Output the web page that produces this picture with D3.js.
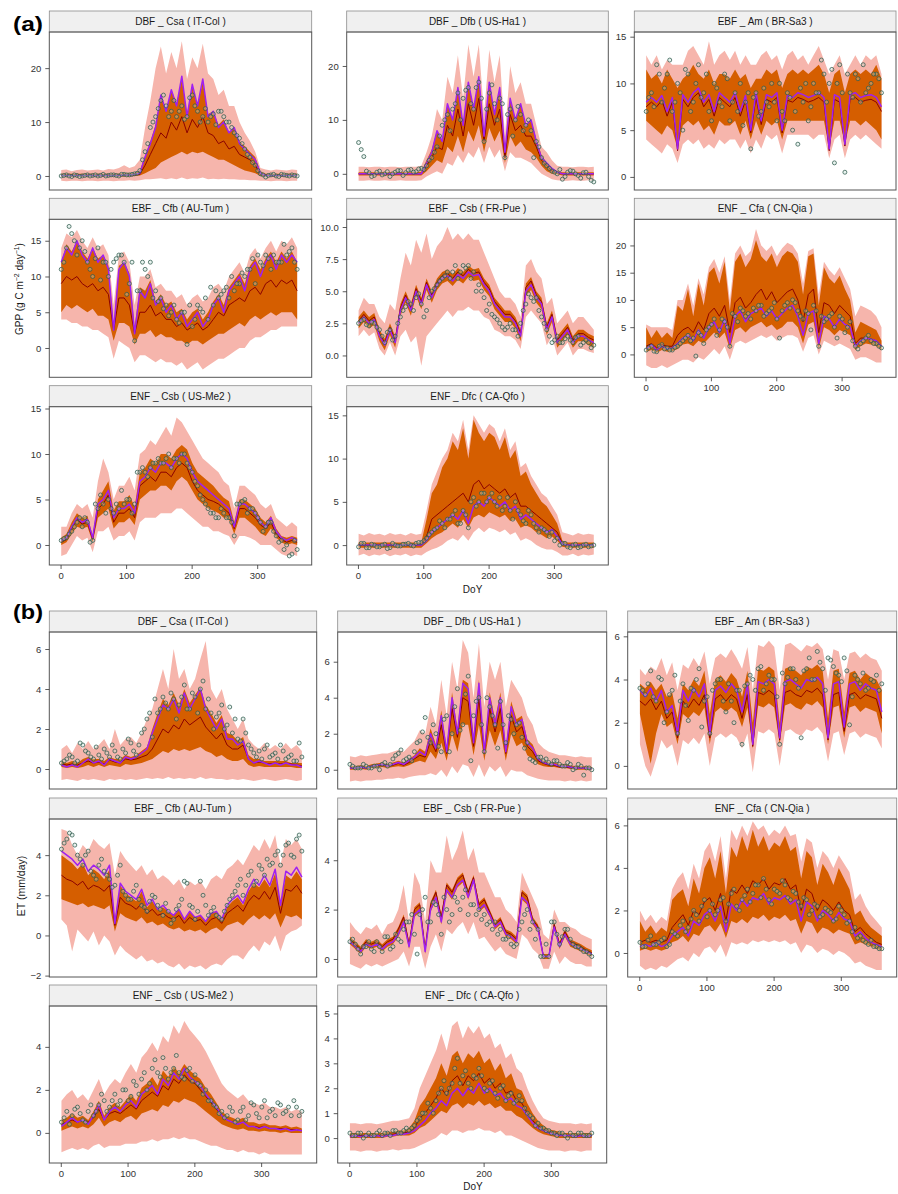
<!DOCTYPE html>
<html><head><meta charset="utf-8">
<script src="https://cdn.jsdelivr.net/npm/d3@7"></script>
<style>
body{margin:0;background:#fff;}
svg{display:block;font-family:"Liberation Sans",Arial,Helvetica,sans-serif;}
</style></head><body>
<svg id="chart" width="898" height="1194"></svg>
<script>
// ---------- DATA ----------
const days = [1,9,17,25,33,41,49,57,65,73,81,89,97,105,113,121,129,137,145,153,161,169,177,185,193,201,209,217,225,233,241,249,257,265,273,281,289,297,305,313,321,329,337,345,353,361];
const days2 = [5,13,21,29,37,45,53,61,69,77,85,93,101,109,117,125,133,141,149,157,165,173,181,189,197,205,213,221,229,237,245,253,261,269,277,285,293,301,309,317,325,333,341,349,357];
const xTickValues = [0,100,200,300];
const titles = ["DBF _ Csa ( IT-Col )","DBF _ Dfb ( US-Ha1 )","EBF _ Am ( BR-Sa3 )","EBF _ Cfb ( AU-Tum )","EBF _ Csb ( FR-Pue )","ENF _ Cfa ( CN-Qia )","ENF _ Csb ( US-Me2 )","ENF _ Dfc ( CA-Qfo )"];

const gppTicks = [[0,10,20],[0,10,20],[0,5,10,15],[0,5,10,15],[0,2.5,5,7.5,10],[0,5,10,15,20],[0,5,10,15],[0,5,10,15]];
const gppLimits = [[-2.6,26.7],[-3.0,26.3],[-1.4,15.5],[-4.1,18.0],[-1.7,10.6],[-4.2,24.8],[-2.2,15.2],[-2.3,16.0]];
const etTicks = [[0,2,4,6],[0,2,4,6],[0,2,4,6],[-2,0,2,4],[0,2,4],[0,2,4,6],[0,2,4],[0,1,2,3,4,5]];
const etLimits = [[-1.0,6.85],[-1.07,7.65],[-1.07,6.2],[-2.07,5.8],[-0.73,5.67],[-1.13,6.3],[-1.4,5.9],[-1.0,5.3]];

// ===== GPP IT-Col =====
const gpp_ITCol_obs=[0.0,0.2,-0.1,0.1,0.0,0.2,0.1,0.0,0.3,0.1,0.2,0.0,0.3,0.2,0.4,1.0,4.5,9.0,11.0,14.0,13.0,12.0,11.0,13.0,11.0,15.0,12.0,11.0,10.0,11.5,12.0,11.0,10.0,8.0,7.0,5.0,3.5,2.0,0.4,-0.2,0.2,0.0,0.3,0.1,0.2,0.0];
const gpp_ITCol_obs2=[0.1,0.0,0.2,-0.1,0.1,0.0,0.2,0.1,0.0,0.2,0.1,0.3,0.2,0.3,0.5,3.0,6.0,10.0,12.5,15.0,11.0,14.0,12.0,10.5,14.5,13.0,10.0,12.5,11.0,9.5,12.0,10.0,9.0,7.5,6.0,4.0,2.5,1.0,0.2,0.1,0.3,-0.1,0.2,0.0,0.1];
const gpp_ITCol_mod=[0.1,0.1,0.1,0.1,0.1,0.1,0.1,0.1,0.1,0.1,0.1,0.1,0.2,0.2,0.3,0.5,3.5,6.0,9.0,15.0,12.0,16.0,13.0,18.5,11.0,17.0,13.0,18.0,11.0,12.0,9.0,10.0,8.0,9.0,6.0,5.0,4.0,3.0,0.5,0.1,0.1,0.1,0.1,0.1,0.1,0.1];
const gpp_ITCol_med=[0.1,0.1,0.1,0.1,0.1,0.1,0.1,0.1,0.1,0.1,0.1,0.1,0.1,0.1,0.2,0.3,2.0,4.0,6.0,8.0,7.0,10.0,8.5,11.0,8.0,10.5,9.0,11.0,8.0,7.5,6.0,6.5,5.0,5.5,4.0,3.5,3.0,2.0,0.3,0.1,0.1,0.1,0.1,0.1,0.1,0.1];
const gpp_ITCol_inHi=[0.4,0.4,0.4,0.4,0.4,0.4,0.4,0.4,0.4,0.4,0.4,0.4,0.5,0.5,0.6,1.0,3.8,6.5,9.5,15.0,12.0,16.0,13.5,18.0,11.5,16.5,13.0,17.5,11.5,12.0,9.5,10.5,8.0,9.0,6.5,5.5,4.5,3.5,0.8,0.4,0.4,0.4,0.4,0.4,0.4,0.4];
const gpp_ITCol_inLo=[-0.1,-0.1,-0.1,-0.1,-0.1,-0.1,-0.1,-0.1,-0.1,-0.1,-0.1,-0.1,-0.1,-0.1,0.0,0.1,0.5,1.0,1.5,2.5,3.0,3.5,4.0,4.5,4.0,4.5,4.2,4.5,4.0,3.5,3.0,3.0,2.5,2.0,1.5,1.0,0.8,0.5,0.0,-0.1,-0.1,-0.1,-0.1,-0.1,-0.1,-0.1];
const gpp_ITCol_outHi=[1.1,1.2,0.9,1.1,1.2,1.0,1.1,1.2,1.0,1.3,1.2,1.5,2.0,1.5,1.8,3.0,9.0,14.0,20.0,24.0,19.0,23.0,20.0,25.0,18.0,22.0,20.0,24.5,19.0,18.0,15.0,16.0,13.0,13.0,10.0,8.0,6.5,4.5,1.5,1.2,1.0,1.2,1.1,1.0,1.2,1.1];
const gpp_ITCol_outLo=[-0.9,-1.0,-0.9,-0.9,-1.0,-0.9,-0.9,-1.0,-0.9,-0.9,-1.0,-0.9,-0.9,-0.8,-0.9,-0.8,-0.6,-0.6,-0.5,-0.4,-0.6,-0.4,-0.6,-0.3,-0.6,-0.4,-0.5,-0.3,-0.6,-0.5,-0.6,-0.5,-0.6,-0.6,-0.7,-0.7,-0.8,-0.8,-0.9,-0.9,-1.0,-0.9,-0.9,-1.0,-0.9,-0.9];

// ===== GPP US-Ha1 =====
const gpp_USHa1_obs=[5.8,3.2,0.2,-0.3,0.5,0.0,-0.5,0.3,0.6,0.2,0.8,0.4,1.0,1.5,3.0,5.0,9.0,11.0,12.0,15.0,14.0,16.0,12.0,17.0,6.0,15.0,13.0,14.0,3.0,12.0,10.0,11.0,9.0,8.0,6.0,3.0,1.5,0.5,0.0,-1.0,0.3,0.5,-0.3,0.2,-0.5,-1.5];
const gpp_USHa1_obs2=[4.5,0.5,-0.5,0.3,-0.2,0.4,0.0,0.6,-0.3,0.7,0.3,0.9,0.8,2.5,4.0,7.0,10.0,8.0,13.0,10.0,15.5,13.0,16.0,14.0,12.0,16.5,10.0,13.0,11.0,7.0,12.5,8.0,10.0,3.0,5.0,2.0,1.0,0.3,0.8,-0.5,0.6,0.0,-0.8,0.3,-1.2];
const gpp_USHa1_mod=[0,0,0,0,0,0,0,0,0,0,0,0,0,2.0,4.0,8.0,6.0,13.0,10.0,16.0,9.0,17.0,12.0,18.0,7.0,17.0,11.0,16.0,4.0,14.0,10.0,13.0,9.0,10.0,6.0,3.0,2.0,1.0,0.3,0,0,0,0,0,0,0];
const gpp_USHa1_med=[0,0,0,0,0,0,0,0,0,0,0,0,0,1.5,3.0,5.0,4.5,9.0,7.0,12.0,7.0,13.0,9.0,14.0,6.0,13.0,9.0,12.0,3.0,11.0,8.0,9.0,7.0,7.0,5.0,2.5,1.5,0.5,0.2,0,0,0,0,0,0,0];
const gpp_USHa1_inHi=[0.3,0.3,0.3,0.3,0.3,0.3,0.3,0.3,0.3,0.3,0.3,0.3,0.4,2.5,4.5,8.0,6.0,13.0,10.0,16.0,9.0,17.0,12.0,18.0,7.0,17.0,11.0,16.0,4.0,14.0,10.0,13.0,9.0,10.0,6.5,3.5,2.0,1.0,0.5,0.3,0.3,0.3,0.3,0.3,0.3,0.3];
const gpp_USHa1_inLo=[-0.3,-0.3,-0.3,-0.3,-0.3,-0.3,-0.3,-0.3,-0.3,-0.3,-0.3,-0.3,-0.3,0.5,1.5,2.5,2.0,5.0,4.0,7.0,4.0,8.0,6.0,9.0,4.0,8.5,6.0,8.0,2.0,7.0,5.0,6.0,4.5,4.0,3.0,1.5,0.5,0.0,-0.1,-0.3,-0.3,-0.3,-0.3,-0.3,-0.3,-0.3];
const gpp_USHa1_outHi=[1.3,1.3,1.2,1.3,1.3,1.2,1.3,1.3,1.2,1.3,1.3,1.3,1.5,4.0,7.0,12.0,10.0,18.0,15.0,22.0,14.0,24.0,18.0,24.0,11.0,23.0,17.0,22.0,7.0,20.0,15.0,17.0,13.0,13.0,9.0,5.0,4.0,2.5,1.5,1.3,1.3,1.2,1.3,1.3,1.2,1.3];
const gpp_USHa1_outLo=[-1.3,-1.3,-1.2,-1.3,-1.3,-1.2,-1.3,-1.3,-1.2,-1.3,-1.3,-1.3,-1.2,-0.5,0.0,0.5,0.0,2.0,1.5,3.5,2.0,4.0,3.0,5.0,2.0,5.0,3.0,4.5,0.5,4.0,3.0,3.0,2.5,2.0,1.0,0.0,-0.5,-1.0,-1.2,-1.3,-1.3,-1.2,-1.3,-1.3,-1.2,-1.3];

// ===== GPP BR-Sa3 =====
const gpp_BRSa3_obs=[7.0,9.0,12.0,8.0,11.0,7.0,10.0,5.0,11.0,8.0,12.0,9.0,7.0,10.0,8.0,11.0,6.0,9.0,10.0,8.0,3.0,9.0,7.0,8.0,10.0,6.0,7.0,9.0,5.0,3.5,8.0,6.0,10.0,9.0,11.0,10.0,1.5,12.0,0.5,9.0,11.0,8.0,9.0,10.0,11.0,9.0];
const gpp_BRSa3_obs2=[8.5,7.5,11.0,9.5,12.5,8.0,9.0,11.5,7.0,10.0,8.5,11.0,6.0,9.5,7.5,10.5,8.0,7.0,5.5,9.0,8.5,6.5,9.5,7.5,8.0,10.0,6.0,8.5,7.0,9.5,10.0,7.5,9.0,12.5,8.0,11.5,10.0,9.0,11.0,8.5,10.5,12.0,9.5,11.0,10.5];
const gpp_BRSa3_mod=[8.0,8.5,8.0,8.7,7.0,8.5,3.0,8.8,8.0,9.0,9.5,8.0,8.8,7.0,9.0,8.5,8.0,9.0,7.0,8.7,5.0,9.0,6.0,8.8,8.5,9.0,5.0,8.7,8.5,9.0,8.8,8.5,8.7,9.0,8.5,3.0,8.8,8.5,3.5,8.8,9.0,8.5,8.7,8.8,8.5,7.5];
const gpp_BRSa3_med=[7.5,8.0,7.5,8.2,6.5,8.0,2.8,8.3,7.5,8.5,9.0,7.5,8.3,6.5,8.5,8.0,7.5,8.5,6.5,8.2,4.7,8.5,5.6,8.3,8.0,8.5,4.7,8.2,8.0,8.5,8.3,8.0,8.2,8.5,8.0,2.8,8.3,8.0,3.3,8.3,8.5,8.0,8.2,8.3,8.0,7.0];
const gpp_BRSa3_inHi=[11.5,10.5,11.0,10.0,11.5,10.5,9.5,10.5,11.0,12.0,11.0,10.5,11.5,10.0,11.0,11.0,10.5,11.5,10.5,11.0,9.5,10.5,10.5,11.5,11.0,11.5,9.5,11.0,11.5,11.0,11.5,11.0,11.5,12.0,11.0,9.0,11.0,11.5,9.0,11.0,11.5,11.0,11.5,11.0,12.0,10.5];
const gpp_BRSa3_inLo=[6.0,5.5,5.0,4.5,5.5,5.0,3.0,5.5,6.0,5.5,6.0,5.0,5.5,4.5,6.0,5.5,5.5,6.0,4.5,6.0,4.0,6.0,4.5,6.0,5.5,6.0,4.0,6.0,6.0,6.0,6.0,6.0,6.0,6.0,6.0,3.0,6.0,6.0,3.5,6.0,6.0,5.5,6.0,5.5,5.0,4.0];
const gpp_BRSa3_outHi=[13.0,12.0,13.0,11.5,12.5,12.0,12.0,12.0,13.5,14.0,13.0,12.0,14.5,12.0,13.0,13.5,12.5,13.5,12.0,13.0,12.0,12.0,13.0,13.5,12.5,13.0,11.5,13.0,13.5,12.5,13.0,12.0,13.0,14.0,12.5,11.0,12.0,13.0,11.0,12.0,13.0,12.0,13.0,12.5,13.0,11.0];
const gpp_BRSa3_outLo=[4.0,3.5,3.0,2.5,3.5,3.0,1.5,3.5,4.0,3.5,4.0,3.0,3.5,3.0,4.0,3.5,4.0,4.0,3.0,4.0,2.5,4.0,3.0,4.5,4.0,4.5,2.5,4.5,4.5,4.5,4.5,4.5,4.0,4.5,4.5,2.0,4.0,4.5,2.0,4.0,4.5,4.0,4.5,4.0,3.5,3.0];

// ===== GPP AU-Tum =====
const gpp_AUTum_obs=[11,14,16,13,15,12,10,14,12,10,12,13,12,9,1,8,11,12,8,7,6,5,4,5,0.5,3,6,5,4,6,7,8,7,8,9,10,11,9,12,13,11,12,12,13,14,11];
const gpp_AUTum_obs2=[12.0,17.0,15.0,14.0,13.5,11.0,12.5,9.5,12.0,11.0,12.5,13.0,7.5,12.0,8.0,12.0,10.0,7.0,6.5,5.5,4.5,6.0,3.5,5.0,6.0,4.0,5.5,7.0,8.5,8.0,7.5,8.5,10.0,9.0,10.5,11.0,12.5,13.0,11.5,12.5,13.0,12.0,14.5,13.5,12.0];
const gpp_AUTum_mod=[12,14,13,15,13,12,14,12,13,11,2.5,11,12,10,2,8,7,9,6,7,5,6,4,5,3,4,5,3,4,6,7,5,8,9,10,8,11,12,10,12,13,11,13,12,13,12];
const gpp_AUTum_med=[9,10,9.5,10,9,8.5,9,8,8.5,7.5,2.5,7,7,6,2,5,5,6,4.5,5,4,4,3,3.5,2.5,3,3.5,2.5,3,4,5,4.5,6,6.5,7,6.5,8,8.5,7.5,9,9.5,8.5,9.5,9,9.5,8];
const gpp_AUTum_inHi=[12,14.5,13.5,15,13.5,12.5,14,12.5,13,11.5,3,11.5,12,10.5,3,8.5,8,9.5,6.5,7.5,6,6.5,5,5.5,4,5,5.5,4,5,6.5,7.5,6,8.5,9.5,10.5,9,11.5,12.5,11,12.5,13.5,12,13.5,12.5,13.5,12];
const gpp_AUTum_inLo=[5,6,5.5,6,5.5,5,5.5,4.5,4.5,4,1,3.5,3.5,3,0.5,2,2,2.5,1.5,2,1.5,1.5,1,1,0.5,1,1,0.5,1,1.5,2,2,2.5,3,3.5,3,4,4.5,4,4.5,5,4.5,5,5,5,4];
const gpp_AUTum_outHi=[14,16,15.5,16.5,15,14,15.5,14,14.5,13,6,13,13.5,12,6,10,10,11,8.5,9,8,8,7,7.5,6,7,7.5,6.5,7,8.5,9,8,10,11,12,10.5,13,14,12.5,14,15,13.5,15,14.5,15.5,14];
const gpp_AUTum_outLo=[4,4,3.5,3.5,3,3,2.5,2.5,2,1.5,-1.5,1,0.5,0,-2,-1,-1,-1.5,-2,-1.5,-2,-2,-2.5,-2,-3,-2.5,-2,-3,-2.5,-2,-1.5,-1.5,-1,-0.5,0,0,1,1.5,1.5,2,2.5,2.5,3,3,3,3];

// ===== GPP FR-Pue =====
const gpp_FRPue_obs=[2.5,2.8,2.3,2.5,2.0,1.0,2.0,1.5,3.0,3.8,4.0,4.5,4.0,3.5,5.0,5.5,6.0,6.5,6.5,6.0,7.0,7.0,6.5,5.5,4.5,4.0,3.0,2.5,2.0,2.5,2.0,2.5,4.0,4.5,4.5,3.0,2.0,1.0,1.5,1.0,1.5,1.0,1.5,1.0,1.0,0.8];
const gpp_FRPue_obs2=[2.7,2.4,2.6,2.2,1.5,1.8,1.2,2.5,3.5,4.2,3.5,4.8,3.0,4.5,5.2,5.8,6.2,6.0,7.0,6.5,6.8,6.0,5.0,5.0,3.5,3.2,2.8,2.2,2.2,2.0,1.5,3.5,4.8,4.2,3.5,2.5,1.5,1.2,1.0,1.3,1.2,1.4,0.8,1.2,0.6];
const gpp_FRPue_mod=[2.5,3.0,2.5,2.8,1.5,0.8,2.0,1.0,3.5,4.5,3.5,5.0,4.0,5.5,4.5,5.5,6.0,6.2,5.8,6.3,6.0,6.5,6.2,6.3,5.5,5.0,4.0,3.5,3.0,3.0,2.5,1.5,5.0,5.5,4.5,4.0,2.0,3.0,1.0,1.5,2.0,1.0,1.5,1.5,1.2,1.0];
const gpp_FRPue_med=[2.7,3.2,2.7,3.0,1.7,1.0,2.2,1.2,3.7,4.7,3.7,5.2,4.2,5.7,4.7,5.7,6.2,6.4,6.0,6.5,6.2,6.7,6.4,6.5,5.7,5.2,4.2,3.7,3.2,3.2,2.7,1.7,5.3,5.8,4.7,4.2,2.2,3.2,1.2,1.7,2.2,1.2,1.7,1.7,1.4,1.2];
const gpp_FRPue_inHi=[3.0,3.5,3.0,3.3,2.0,1.3,2.5,1.5,4.0,5.0,4.0,5.5,4.5,6.0,5.0,6.0,6.5,6.7,6.3,6.8,6.5,7.0,6.7,6.8,6.0,5.5,4.5,4.0,3.5,3.5,3.0,2.0,5.6,6.1,5.0,4.5,2.5,3.5,1.5,2.0,2.5,1.5,2.0,2.0,1.7,1.5];
const gpp_FRPue_inLo=[2.1,2.6,2.1,2.4,1.1,0.4,1.6,0.6,3.1,4.1,3.1,4.6,3.6,5.1,4.1,5.1,5.6,5.8,5.4,5.9,5.6,6.1,5.8,5.9,5.1,4.6,3.6,3.1,2.6,2.6,2.1,1.1,4.6,5.1,4.1,3.6,1.6,2.6,0.6,1.1,1.6,0.6,1.1,1.1,0.8,0.6];
const gpp_FRPue_outHi=[3.5,4.5,4.0,4.0,3.0,2.5,4.0,3.5,6.0,8.0,7.0,9.0,8.0,9.5,7.5,8.5,9.0,10.0,9.0,9.5,9.0,9.5,9.0,9.0,8.0,7.0,6.0,5.0,4.5,4.5,4.0,3.0,7.0,7.5,6.5,6.0,4.0,4.5,2.5,3.0,3.5,2.5,3.0,3.0,2.5,2.0];
const gpp_FRPue_outLo=[1.5,2.0,1.5,1.8,0.5,0.0,1.0,0.0,1.5,2.0,1.0,1.5,-0.8,1.5,2.0,2.5,3.0,3.5,3.0,3.5,3.5,3.8,3.5,3.5,3.0,2.8,2.0,1.8,1.5,1.5,1.2,0.5,3.0,3.5,3.0,2.5,0.8,1.5,0.0,0.5,1.0,0.0,0.5,0.5,0.3,0.2];

// ===== GPP CN-Qia =====
const gpp_CNQia_obs=[0.8,1.5,0.5,1.8,1.2,0.8,1.5,2.5,3.5,3.0,4.0,2.0,5.0,6.5,4.5,6.0,1.5,7.0,8.5,7.0,6.5,8.0,9.0,7.5,8.5,6.5,8.0,9.5,10.0,8.0,6.5,7.5,9.0,1.5,6.0,7.0,5.0,7.0,4.0,6.0,1.5,2.0,3.0,2.5,2.0,1.2];
const gpp_CNQia_obs2=[1.2,0.6,1.5,1.0,0.8,1.3,2.0,3.0,2.5,-0.3,3.5,4.5,5.5,3.5,6.5,5.0,7.5,6.0,8.0,7.5,8.5,9.0,7.0,8.0,9.5,3.0,9.0,8.5,9.5,7.0,8.0,4.5,8.0,7.0,6.5,7.5,3.0,6.5,5.0,2.5,1.0,2.5,3.5,2.0,1.5];
const gpp_CNQia_mod=[1.0,1.8,0.8,1.5,1.0,1.2,2.0,3.0,3.5,2.5,4.5,3.0,5.0,6.0,4.0,6.5,2.0,7.0,8.0,6.0,7.5,8.0,8.5,7.0,8.0,6.5,7.5,8.5,9.0,7.0,3.5,7.5,8.0,2.0,7.0,6.5,5.0,6.5,5.5,5.0,1.5,2.5,3.0,2.8,2.5,1.5];
const gpp_CNQia_med=[1.5,2.0,1.2,1.8,1.5,1.5,3.5,4.5,5.0,4.0,6.0,4.5,7.5,8.5,7.0,9.0,4.0,9.5,10.5,8.5,9.5,11.0,12.0,10.0,11.5,9.5,10.5,11.5,12.0,10.0,6.0,11.0,12.0,4.0,9.5,9.0,7.5,9.0,8.0,7.0,2.0,3.0,3.0,2.8,2.5,1.5];
const gpp_CNQia_inHi=[5.0,3.0,4.5,3.0,4.0,3.0,9.0,8.0,12.0,7.0,13.0,9.0,15.0,16.0,13.0,17.0,8.0,17.0,18.5,16.0,17.5,21.0,18.0,17.0,18.5,16.0,18.0,19.0,18.5,17.0,11.0,18.0,18.5,9.0,16.0,14.0,13.0,14.5,12.0,10.0,4.0,6.0,5.5,5.0,4.5,2.5];
const gpp_CNQia_inLo=[0.5,0.8,0.3,0.8,0.5,0.6,1.0,1.8,2.0,1.5,2.5,2.0,3.0,4.0,3.0,4.0,1.0,4.5,5.0,4.0,5.0,5.5,6.0,5.0,5.5,4.5,5.0,6.0,6.0,5.0,2.0,5.5,6.0,1.0,5.0,4.5,3.5,4.5,4.0,3.5,0.8,1.5,2.0,1.8,1.5,0.8];
const gpp_CNQia_outHi=[5.5,5.0,5.0,5.0,5.0,4.5,10.0,10.0,13.0,9.0,14.0,11.0,16.0,17.5,15.0,18.0,10.0,18.5,20.0,18.0,19.0,23.0,20.0,19.0,20.0,18.0,19.5,20.5,20.0,18.5,13.0,19.0,19.5,11.0,17.0,15.5,14.5,16.0,14.0,12.0,7.0,9.0,8.5,8.0,7.0,5.0];
const gpp_CNQia_outLo=[-2.0,-2.5,-2.5,-2.0,-2.5,-2.0,-1.5,-1.0,-1.0,-1.5,-0.5,-1.0,0.0,1.0,0.0,1.5,-1.0,2.0,2.5,2.0,2.5,3.0,3.5,3.0,3.5,2.5,3.0,3.5,3.5,3.0,0.5,3.0,3.5,0.0,2.5,2.0,1.5,2.0,1.5,1.0,-1.0,-0.5,-0.5,-1.0,-1.5,-1.5];

// ===== GPP US-Me2 =====
const gpp_USMe2_obs=[0.5,0.8,1.5,2.5,2.0,2.5,0.5,4.0,4.5,5.0,3.5,4.0,4.5,5.0,4.5,8.0,8.0,8.5,9.0,9.0,9.5,8.5,9.5,10.0,9.0,8.0,6.5,5.0,4.0,3.5,3.0,3.5,3.0,1.0,4.5,5.0,4.0,3.5,2.5,2.0,2.5,1.0,0.5,0.0,-1.0,-0.5];
const gpp_USMe2_obs2=[0.7,1.2,2.0,3.0,3.0,0.3,4.5,5.5,3.5,4.0,4.5,6.0,5.0,3.5,8.0,8.5,7.5,9.0,9.5,9.0,10.0,9.5,9.0,10.0,8.5,7.0,5.5,4.5,3.5,3.0,4.0,3.0,2.5,4.5,4.8,3.5,4.0,3.0,1.5,2.5,1.5,0.3,-0.5,-1.2,0.5];
const gpp_USMe2_mod=[0.5,0.8,2.0,3.0,2.5,2.8,0.8,4.5,5.0,6.0,3.0,4.0,4.0,4.5,3.5,7.0,7.5,8.5,8.0,9.0,9.0,8.5,9.5,10.0,9.5,8.0,7.0,6.5,6.0,5.5,5.0,4.5,4.0,2.0,4.5,4.5,4.0,3.5,2.5,2.0,3.0,1.5,0.8,0.5,0.8,0.5];
const gpp_USMe2_med=[0.3,0.6,1.8,2.8,2.3,2.5,0.6,4.0,4.5,5.5,2.5,3.5,3.5,4.0,3.0,6.5,7.0,7.5,7.0,8.0,8.0,7.5,8.5,9.0,8.5,7.0,6.0,5.5,5.0,4.8,4.5,4.0,3.5,1.8,4.0,4.0,3.5,3.0,2.2,1.8,2.5,1.2,0.6,0.3,0.5,0.3];
const gpp_USMe2_inHi=[0.8,1.2,2.5,3.5,3.0,3.2,1.0,5.0,6.0,7.0,3.8,4.8,4.8,5.5,4.2,8.0,8.5,9.5,9.0,10.0,10.0,9.5,10.5,11.0,10.5,9.0,8.0,7.5,7.0,6.5,5.8,5.2,4.8,2.5,5.0,5.0,4.5,4.0,3.0,2.5,3.2,1.8,1.0,0.8,1.0,0.8];
const gpp_USMe2_inLo=[0.0,0.3,1.2,2.0,1.8,2.0,0.3,3.0,3.5,4.0,1.8,2.5,2.5,3.0,2.2,5.0,5.5,6.0,6.0,6.5,6.5,6.0,7.0,7.5,7.0,6.0,5.0,4.5,4.0,3.8,3.5,3.0,2.8,1.2,3.0,3.0,2.5,2.0,1.3,1.0,1.8,0.8,0.3,0.0,0.2,0.0];
const gpp_USMe2_outHi=[2.0,2.0,3.5,4.5,4.0,4.5,3.0,7.0,9.5,8.0,5.0,6.5,6.5,7.5,6.0,10.0,10.5,11.5,11.0,12.0,13.0,12.0,14.0,13.5,12.5,11.5,10.5,9.5,9.0,8.5,8.0,7.0,6.5,4.0,6.5,6.5,6.0,5.5,4.5,4.0,4.5,3.0,2.5,2.0,2.5,2.0];
const gpp_USMe2_outLo=[-1.2,-1.0,0.0,1.0,0.5,0.8,-0.8,1.5,1.5,2.0,0.5,1.0,1.0,1.5,0.5,2.5,3.0,3.0,3.0,3.5,3.5,3.5,4.0,4.0,3.5,3.0,2.5,2.0,2.0,1.5,1.5,1.2,1.0,0.0,1.0,1.0,0.8,0.5,0.0,0.0,0.0,-0.5,-1.0,-1.2,-1.0,-1.2];

// ===== GPP CA-Qfo =====
const gpp_CAQfo_obs=[-0.2,0.2,-0.3,0.0,-0.2,0.1,-0.3,0.0,-0.1,0.1,0.0,0.2,0.3,0.8,1.5,2.0,2.5,3.0,3.5,2.5,4.0,2.0,5.5,5.0,6.0,5.5,5.0,5.5,4.5,4.0,5.0,3.5,2.5,3.5,2.0,2.0,1.5,1.5,0.8,0.2,-0.2,0.0,-0.3,0.0,-0.2,0.0];
const gpp_CAQfo_obs2=[0.2,-0.3,0.1,-0.2,0.0,-0.4,0.2,-0.1,0.1,0.2,-0.1,0.3,0.5,1.2,1.8,2.8,2.0,3.0,4.0,2.5,3.5,5.0,4.5,6.0,5.0,6.0,4.5,4.0,5.5,3.0,4.0,2.8,4.0,2.5,1.5,1.8,1.0,0.5,0.0,0.2,-0.3,0.1,-0.2,0.1,-0.1];
const gpp_CAQfo_mod=[0,0,0,0,0,0,0,0,0,0,0,0,0,0.5,1.5,2.0,2.5,3.0,3.5,3.0,4.0,2.5,4.5,5.0,4.5,5.5,5.0,4.5,5.0,4.0,4.5,3.0,3.5,3.0,2.5,2.0,1.5,1.8,1.0,0.1,0,0,0,0,0,0];
const gpp_CAQfo_med=[0,0,0,0,0,0,0,0,0,0,0,0,0,1.0,3.0,3.5,4.0,4.5,5.0,5.5,6.0,5.0,7.0,7.5,6.5,7.0,6.5,6.0,6.5,5.5,6.0,4.5,4.5,4.0,3.5,3.0,2.5,2.0,1.5,0.2,0,0,0,0,0,0];
const gpp_CAQfo_inHi=[0.3,0.3,0.3,0.3,0.3,0.3,0.3,0.3,0.3,0.3,0.3,0.3,0.3,3,6,7,9,10,12,11,13.5,10,14.5,13,12,13,12.5,11,12.5,10,11,8,8.5,7,6,5,4.5,3.5,2.5,0.5,0.3,0.3,0.3,0.3,0.3,0.3];
const gpp_CAQfo_inLo=[-0.3,-0.3,-0.3,-0.3,-0.3,-0.3,-0.3,-0.3,-0.3,-0.3,-0.3,-0.3,-0.3,0.2,0.8,1.2,1.5,2.0,2.5,2.0,3.0,2.0,3.2,3.5,3.2,3.8,3.5,3.2,3.5,2.8,3.0,2.0,2.3,2.0,1.5,1.2,0.8,1.0,0.5,-0.2,-0.3,-0.3,-0.3,-0.3,-0.3,-0.3];
const gpp_CAQfo_outHi=[1.3,1.1,1.4,1.2,1.3,1.1,1.4,1.2,1.3,1.1,1.4,1.2,1.3,4,7,8.5,10,11,13,12,14.5,11,15,14,13,14,13.5,12,13.5,11,12,9,9.5,8,7,6,5.5,4.5,3.5,1.5,1.3,1.1,1.4,1.2,1.3,1.2];
const gpp_CAQfo_outLo=[-1.2,-1.0,-1.3,-1.1,-1.2,-1.0,-1.3,-1.1,-1.2,-1.0,-1.3,-1.1,-1.2,-0.8,-0.5,-0.3,0,0.5,0.8,0.5,1.2,0.5,1.5,2.0,1.5,2.0,1.8,1.5,1.8,1.2,1.5,0.5,0.8,0.5,0,-0.3,-0.5,-0.5,-0.8,-1.2,-1.2,-1.0,-1.3,-1.1,-1.2,-1.1];

// ===== ET IT-Col =====
const et_ITCol_obs=[0.3,0.5,0.6,0.4,1.2,0.8,0.5,0.7,1.0,0.6,0.9,0.5,0.8,1.3,0.7,1.8,2.5,1.6,2.8,3.6,3.0,3.5,3.2,4.2,3.0,3.6,4.0,3.0,2.8,2.6,3.2,2.2,1.8,1.5,2.5,1.2,0.8,0.9,1.0,0.6,0.8,1.2,0.5,0.7,0.4,0.6];
const et_ITCol_obs2=[0.4,0.7,0.3,1.3,0.9,0.6,1.1,0.5,0.8,1.2,0.6,1.0,1.5,0.9,1.2,2.0,2.8,3.5,3.0,3.3,3.8,2.5,3.6,3.0,3.8,2.8,4.4,3.5,2.0,2.8,2.0,3.1,2.5,1.4,1.8,1.0,0.6,0.5,1.2,0.7,0.5,0.9,0.6,0.4,1.3];
const et_ITCol_mod=[0.2,0.1,0.2,0.1,0.3,0.5,0.3,0.4,0.2,0.5,0.4,0.3,0.6,0.5,0.6,0.8,1.0,1.8,2.5,3.2,3.0,3.5,2.8,3.8,3.0,3.5,4.0,3.0,2.5,2.0,2.5,1.5,1.5,1.2,1.4,0.5,0.3,0.4,0.3,0.2,0.3,0.2,0.3,0.2,0.2,0.1];
const et_ITCol_med=[0.25,0.2,0.25,0.2,0.3,0.4,0.3,0.35,0.25,0.45,0.35,0.3,0.5,0.45,0.5,0.6,0.7,1.0,1.5,2.0,1.8,2.2,2.0,2.5,2.2,2.4,2.6,2.1,1.8,1.5,1.8,1.2,1.0,1.0,1.2,0.5,0.3,0.35,0.3,0.25,0.3,0.25,0.3,0.25,0.2,0.15];
const et_ITCol_inHi=[0.4,0.3,0.4,0.3,0.5,0.6,0.5,0.5,0.4,0.6,0.5,0.5,0.7,0.6,0.7,0.9,1.1,2.0,2.8,3.5,3.2,3.8,3.2,4.0,3.3,3.7,4.1,3.2,2.8,2.3,2.7,1.8,1.7,1.4,1.6,0.7,0.5,0.5,0.4,0.4,0.4,0.4,0.4,0.3,0.3,0.3];
const et_ITCol_inLo=[0.1,0.05,0.1,0.05,0.1,0.2,0.1,0.2,0.1,0.2,0.15,0.1,0.25,0.2,0.25,0.3,0.4,0.5,0.7,0.9,0.8,1.0,0.9,1.0,0.9,1.0,1.1,0.9,0.8,0.6,0.7,0.5,0.4,0.4,0.5,0.2,0.1,0.15,0.1,0.1,0.1,0.1,0.1,0.1,0.05,0.05];
const et_ITCol_outHi=[1.0,1.2,0.8,1.3,1.0,1.4,1.0,1.2,1.5,1.0,2.0,1.2,1.5,1.6,1.3,1.8,2.5,3.0,4.0,5.0,4.0,6.0,4.5,5.0,4.0,4.5,5.5,6.4,4.0,3.5,4.0,3.0,2.5,2.0,2.5,1.5,1.2,1.0,1.3,1.0,1.2,1.0,1.3,1.0,1.2,0.9];
const et_ITCol_outLo=[-0.55,-0.5,-0.55,-0.6,-0.5,-0.55,-0.5,-0.55,-0.6,-0.5,-0.55,-0.5,-0.55,-0.5,-0.55,-0.5,-0.45,-0.5,-0.45,-0.5,-0.4,-0.5,-0.45,-0.5,-0.45,-0.5,-0.4,-0.5,-0.45,-0.5,-0.5,-0.55,-0.5,-0.55,-0.5,-0.55,-0.6,-0.55,-0.5,-0.55,-0.6,-0.55,-0.5,-0.55,-0.6,-0.55];

// ===== ET US-Ha1 =====
const et_USHa1_obs=[0.3,0.1,0.1,0.2,0.1,0.2,0.3,0.2,0.6,0.9,0.5,0.7,1.0,1.6,2.9,1.5,2.0,1.0,3.0,2.0,4.5,2.5,5.2,3.0,4.0,1.0,3.5,2.5,3.8,1.5,2.8,2.5,1.8,1.5,0.5,0.7,0.5,0.4,0.5,0.3,0.2,0.3,0.1,0.2,0.1,0.0];
const et_USHa1_obs2=[0.2,0.1,0.3,0.1,0.2,0.0,0.4,0.3,0.8,1.1,0.6,0.5,1.5,2.1,1.8,2.5,1.3,2.8,1.0,3.5,2.2,4.2,0.5,3.8,2.5,4.0,3.0,1.2,2.5,3.0,2.0,2.6,1.2,0.6,0.4,0.7,0.6,0.3,0.5,0.2,0.4,0.0,0.3,-0.3,0.1];
const et_USHa1_mod=[0.1,0.1,0.15,0.1,0.2,0.25,0.3,0.2,0.3,0.4,0.3,0.5,0.7,1.0,0.8,2.0,1.2,3.0,1.0,4.0,2.0,4.8,4.5,1.5,4.8,1.0,4.0,2.5,4.0,1.0,3.5,2.5,2.8,1.5,1.2,0.6,0.4,0.3,0.3,0.2,0.2,0.15,0.1,0.1,0.1,0.05];
const et_USHa1_med=[0.1,0.1,0.1,0.1,0.15,0.2,0.25,0.2,0.25,0.35,0.25,0.4,0.6,0.8,0.7,1.6,1.0,2.5,0.9,3.4,1.8,4.0,3.8,1.3,4.0,0.9,3.4,2.1,3.4,0.9,3.0,2.1,2.4,1.3,1.0,0.5,0.35,0.25,0.25,0.15,0.15,0.1,0.1,0.1,0.1,0.05];
const et_USHa1_inHi=[0.2,0.2,0.25,0.2,0.3,0.35,0.4,0.3,0.4,0.5,0.4,0.6,0.8,1.2,1.0,2.3,1.4,3.3,1.2,4.3,2.3,5.0,4.8,1.8,5.0,1.2,4.3,2.8,4.3,1.2,3.8,2.8,3.0,1.7,1.4,0.7,0.5,0.4,0.4,0.3,0.3,0.25,0.2,0.2,0.2,0.15];
const et_USHa1_inLo=[0.0,0.0,0.05,0.0,0.1,0.1,0.15,0.1,0.15,0.2,0.15,0.25,0.4,0.5,0.4,1.0,0.6,1.5,0.5,2.0,1.0,2.5,2.5,0.8,2.5,0.5,2.2,1.3,2.2,0.5,2.0,1.3,1.5,0.8,0.6,0.3,0.2,0.15,0.15,0.1,0.1,0.05,0.0,0.0,0.0,0.0];
const et_USHa1_outHi=[0.75,0.7,0.8,0.75,0.8,0.85,0.9,0.9,1.0,1.1,1.0,1.3,1.6,2.2,2.0,3.5,2.5,5.0,3.0,6.0,4.5,7.2,6.5,4.0,7.0,3.5,6.0,5.0,6.0,3.5,5.0,4.5,4.0,3.0,2.5,1.5,1.2,1.0,0.9,0.8,0.8,0.75,0.7,0.75,0.7,0.7];
const et_USHa1_outLo=[-0.65,-0.6,-0.65,-0.6,-0.6,-0.55,-0.55,-0.5,-0.5,-0.45,-0.5,-0.4,-0.35,-0.3,-0.3,-0.2,-0.3,0.0,-0.4,0.2,-0.2,0.3,0.2,-0.4,0.3,-0.4,0.2,-0.1,0.2,-0.4,0.0,-0.1,-0.1,-0.3,-0.4,-0.5,-0.55,-0.6,-0.6,-0.6,-0.65,-0.6,-0.65,-0.6,-0.65,-0.6];

// ===== ET BR-Sa3 =====
const et_BRSa3_obs=[3.6,3.3,4.4,3.0,4.0,2.5,3.5,1.5,3.8,2.1,3.5,4.5,3.0,1.5,3.8,4.0,2.5,3.0,3.5,1.0,3.8,4.0,4.5,3.5,4.2,4.0,1.0,3.8,4.5,4.0,1.3,4.5,4.0,5.3,4.5,5.0,4.6,4.2,5.0,1.9,4.2,3.8,3.5,4.0,4.2,3.8];
const et_BRSa3_obs2=[3.5,3.8,3.2,4.1,2.0,3.3,4.2,3.0,2.8,3.6,4.0,1.8,3.2,3.5,4.0,3.0,3.8,2.0,3.5,3.7,4.2,3.5,4.6,3.8,4.0,3.2,4.3,4.1,4.5,3.6,4.4,5.0,4.0,4.8,3.5,4.9,4.3,3.9,4.4,3.2,4.0,4.3,3.6,3.9,3.5];
const et_BRSa3_mod=[3.5,3.2,3.6,3.0,3.5,2.5,2.8,1.5,3.5,3.0,3.6,3.2,3.8,1.5,3.5,3.7,3.4,3.8,3.5,2.5,3.8,1.0,3.9,3.8,4.0,3.8,1.3,3.9,4.0,3.8,3.6,4.0,3.9,4.1,3.8,1.3,3.8,3.9,1.8,3.8,3.9,3.5,3.8,3.6,3.5,2.5];
const et_BRSa3_med=[3.0,2.8,3.1,2.6,3.0,2.2,2.5,1.3,3.0,2.7,3.1,2.8,3.3,1.3,3.1,3.3,3.0,3.3,3.1,2.2,3.3,0.9,3.4,3.3,3.5,3.3,1.2,3.4,3.5,3.3,3.2,3.5,3.4,3.6,3.3,1.2,3.3,3.4,1.6,3.3,3.4,3.1,3.3,3.2,3.1,2.2];
const et_BRSa3_inHi=[3.8,3.6,3.9,3.5,3.8,3.2,3.4,2.2,3.8,3.5,4.0,3.7,4.4,2.4,4.0,4.2,3.9,4.3,4.0,3.2,4.4,2.0,4.5,4.4,4.6,4.4,2.0,4.5,4.6,4.4,4.2,4.6,4.5,4.7,4.4,2.2,4.4,4.5,2.5,4.3,4.4,4.0,4.3,4.1,4.0,3.5];
const et_BRSa3_inLo=[2.4,1.2,0.1,1.5,2.4,1.8,2.0,1.0,2.4,2.2,2.5,2.3,2.7,1.0,2.5,2.7,2.5,2.7,2.5,1.8,2.7,0.8,2.8,2.7,2.9,2.7,1.0,2.8,2.9,2.7,2.6,2.9,2.8,3.0,2.7,1.0,2.7,2.8,1.3,2.7,2.8,2.5,2.7,2.6,2.5,1.5];
const et_BRSa3_outHi=[4.5,4.2,4.6,4.4,5.0,4.2,4.8,3.5,4.7,4.5,5.0,4.6,5.3,3.8,5.0,5.2,5.0,5.4,5.0,4.5,5.5,3.5,5.6,5.5,5.8,5.5,3.5,5.6,5.7,5.5,5.3,5.6,5.5,5.7,5.4,4.0,5.4,5.3,4.0,5.2,5.3,5.0,5.2,5.0,4.9,4.4];
const et_BRSa3_outLo=[1.0,0.0,-0.5,0.3,1.2,0.8,1.0,0.0,1.2,1.0,1.3,1.0,1.5,0.0,1.3,1.5,1.3,1.5,1.3,0.8,1.5,-0.3,1.6,1.5,1.7,1.5,0.0,1.6,1.7,1.5,1.4,1.7,1.6,1.8,1.5,0.2,1.5,1.6,0.5,1.5,1.6,1.3,1.5,1.4,1.3,0.8];

// ===== ET AU-Tum =====
const et_AUTum_obs=[4.3,4.8,5.0,4.0,3.5,4.2,3.0,3.5,3.2,2.8,2.5,3.5,2.0,1.8,2.5,1.5,1.2,2.0,1.5,1.0,1.2,0.8,1.5,2.7,1.5,0.8,2.7,1.5,1.2,1.0,0.8,1.5,2.0,2.5,2.0,3.0,2.5,3.5,3.0,3.5,4.0,3.5,4.5,4.0,4.8,4.2];
const et_AUTum_obs2=[4.6,5.1,4.5,3.8,4.0,3.2,2.8,3.8,3.0,2.4,3.0,2.2,1.8,2.2,1.8,1.4,1.7,1.9,1.3,1.6,0.6,1.3,1.8,2.6,1.4,1.2,2.0,1.0,1.4,0.9,1.2,1.8,2.2,2.8,2.5,3.2,2.7,3.3,3.8,3.6,4.2,4.0,4.6,3.9,5.0];
const et_AUTum_mod=[4.2,4.0,3.8,3.5,3.8,3.2,3.5,3.3,3.0,3.5,0.6,2.6,2.2,2.0,1.8,2.3,1.5,1.8,1.3,1.5,1.2,1.0,1.3,0.8,1.2,0.9,1.0,0.7,1.1,1.2,0.8,1.5,1.8,2.0,1.6,2.3,2.8,2.5,3.0,2.5,3.3,1.5,3.2,3.0,3.4,2.9];
const et_AUTum_med=[3.0,2.8,2.7,2.5,2.7,2.3,2.5,2.4,2.2,2.5,0.5,1.9,1.6,1.5,1.3,1.6,1.1,1.3,1.0,1.1,0.9,0.8,1.0,0.6,0.9,0.7,0.8,0.5,0.8,0.9,0.6,1.1,1.3,1.5,1.2,1.7,2.0,1.8,2.2,1.8,2.4,1.1,2.3,2.2,2.5,2.1];
const et_AUTum_inHi=[4.0,3.8,3.6,3.3,3.6,3.0,3.3,3.1,2.8,3.3,0.8,2.5,2.1,1.9,1.7,2.2,1.4,1.7,1.3,1.4,1.2,1.0,1.3,0.8,1.2,0.9,1.0,0.7,1.1,1.2,0.8,1.4,1.7,1.9,1.5,2.2,2.6,2.4,2.8,2.4,3.1,1.5,3.0,2.8,3.2,2.8];
const et_AUTum_inLo=[1.8,1.7,1.6,1.5,1.6,1.4,1.5,1.4,1.3,1.5,0.2,1.1,0.9,0.8,0.7,0.9,0.6,0.7,0.5,0.6,0.4,0.3,0.4,0.2,0.3,0.2,0.3,0.1,0.3,0.4,0.2,0.5,0.6,0.7,0.5,0.8,1.0,0.8,1.0,0.8,1.1,0.4,1.0,0.9,1.0,0.8];
const et_AUTum_outHi=[5.3,5.2,4.5,4.0,4.5,4.2,4.8,4.5,4.3,4.6,3.0,4.2,3.8,3.5,3.2,3.5,3.0,3.3,2.8,3.0,2.8,2.5,2.8,2.3,2.7,2.5,2.7,2.3,2.8,3.0,2.8,3.3,3.5,3.8,3.5,4.0,4.5,4.2,4.8,4.3,5.0,3.5,4.8,4.5,4.8,4.3];
const et_AUTum_outLo=[0.8,0.5,-0.8,0.3,0.0,-0.3,0.2,-0.5,0.0,-0.3,-1.0,-0.5,-0.8,-1.0,-1.2,-1.0,-1.3,-1.2,-1.4,-1.3,-1.5,-1.6,-1.4,-1.7,-1.5,-1.6,-1.5,-1.7,-1.5,-1.4,-1.5,-1.2,-1.0,-1.0,-1.2,-0.8,-0.5,-0.8,-0.3,-0.5,0.0,-0.8,0.0,0.2,0.3,0.5];

// ===== ET FR-Pue =====
const et_FRPue_obs=[0.7,0.6,0.2,0.5,0.4,0.7,0.3,0.9,0.5,0.8,1.2,1.5,1.0,1.8,2.5,1.5,2.2,1.0,2.0,1.8,2.3,2.5,1.8,2.2,2.0,1.8,1.5,1.5,1.2,0.8,0.6,0.6,1.5,2.0,1.5,1.2,0.1,0.1,1.5,0.6,1.2,0.8,0.5,0.4,0.3,0.1];
const et_FRPue_obs2=[0.8,0.4,0.5,0.7,0.3,0.5,0.9,0.4,1.0,0.7,1.5,1.8,0.2,2.0,1.5,2.3,1.8,2.5,1.5,2.5,2.0,2.8,2.2,1.8,1.6,1.4,1.2,1.0,0.8,0.9,0.5,1.2,1.8,1.2,0.8,0.1,0.6,1.5,1.0,0.9,1.2,0.6,0.5,0.3,0.2];
const et_FRPue_mod=[0.7,0.5,0.3,0.6,0.5,0.6,0.4,0.6,0.7,1.0,1.5,0.5,1.8,2.0,0.3,2.0,2.5,1.5,2.8,2.5,3.0,3.2,2.5,3.2,2.0,2.2,1.8,1.3,1.5,1.0,0.9,0.7,2.5,2.3,1.5,1.2,0.1,0.1,1.3,0.5,1.0,0.6,0.5,0.4,0.3,0.2];
const et_FRPue_med=[0.8,0.6,0.4,0.7,0.6,0.7,0.5,0.7,0.8,1.2,1.7,0.6,2.0,2.2,0.4,2.2,2.7,1.7,3.0,2.7,3.2,3.4,2.7,3.3,2.2,2.4,1.9,1.4,1.6,1.1,1.0,0.8,2.7,2.5,1.6,1.3,0.1,0.1,1.4,0.6,1.1,0.7,0.6,0.5,0.35,0.25];
const et_FRPue_inHi=[0.9,0.7,0.5,0.8,0.7,0.8,0.6,0.8,0.9,1.3,1.8,0.7,2.1,2.3,0.5,2.3,2.8,1.8,3.1,2.8,3.3,3.5,2.8,3.4,2.3,2.5,2.0,1.5,1.7,1.2,1.1,0.9,2.8,2.6,1.7,1.4,0.2,0.2,1.5,0.7,1.2,0.8,0.7,0.6,0.45,0.35];
const et_FRPue_inLo=[0.6,0.4,0.2,0.5,0.4,0.5,0.3,0.5,0.6,0.9,1.4,0.4,1.7,1.9,0.2,1.9,2.4,1.4,2.7,2.4,2.9,3.1,2.4,3.1,1.9,2.1,1.7,1.2,1.4,0.9,0.8,0.6,2.4,2.2,1.4,1.1,0.0,0.0,1.2,0.4,0.9,0.5,0.4,0.3,0.2,0.1];
const et_FRPue_outHi=[1.5,1.2,1.0,1.3,1.2,1.4,1.0,1.4,1.5,2.0,3.0,1.5,3.5,3.0,1.5,4.0,3.5,3.5,5.0,4.0,4.5,5.2,4.0,4.5,3.5,3.5,3.0,2.5,2.5,2.0,1.8,1.5,3.5,3.0,2.5,2.0,1.0,0.8,2.0,1.5,1.5,1.3,1.2,1.0,0.9,0.8];
const et_FRPue_outLo=[-0.2,-0.3,-0.4,-0.2,-0.3,-0.2,-0.3,-0.2,-0.1,0.0,0.3,-0.3,0.5,0.5,-0.4,0.5,1.0,0.3,1.2,1.0,1.3,1.5,1.0,1.5,0.8,0.9,0.6,0.3,0.5,0.2,0.1,0.0,1.0,0.8,0.4,0.2,-0.4,-0.4,0.3,-0.2,0.1,-0.1,-0.2,-0.2,-0.3,-0.3];

// ===== ET CN-Qia =====
const et_CNQia_obs=[0.5,0.3,0.8,0.4,0.6,0.3,1.0,0.8,1.5,1.2,2.0,1.5,2.5,2.0,1.8,2.5,1.5,2.8,2.2,2.5,3.0,2.8,3.2,3.5,2.5,3.0,2.8,3.2,2.5,2.8,2.2,2.5,2.0,2.2,1.8,2.0,1.5,2.2,1.8,1.5,1.2,0.8,0.5,0.6,0.3,0.2];
const et_CNQia_obs2=[0.3,0.6,0.4,0.5,0.7,0.4,0.9,1.3,1.0,1.6,1.8,2.2,1.7,2.3,2.0,2.6,2.3,3.0,2.0,2.7,2.4,3.2,2.6,3.0,2.3,2.9,3.4,2.6,2.9,2.4,2.6,1.8,2.3,1.7,2.1,1.9,1.6,2.0,1.4,1.0,0.7,0.6,0.4,0.3,0.2];
const et_CNQia_mod=[0.3,0.4,0.3,0.5,0.3,0.4,0.8,1.0,1.2,0.8,1.5,1.3,1.8,2.0,1.5,2.2,1.0,2.3,2.0,2.5,2.2,2.6,2.5,2.8,2.3,2.6,2.5,2.7,2.3,2.5,1.5,2.4,2.2,1.5,2.0,1.8,1.5,1.9,1.6,1.5,0.8,1.0,0.7,0.5,0.4,0.3];
const et_CNQia_med=[0.5,0.6,0.5,0.6,0.5,0.6,1.2,1.5,1.8,1.3,2.0,1.8,2.4,2.6,2.0,2.8,1.5,3.0,2.8,3.2,2.8,3.4,3.2,3.5,3.0,3.3,3.2,3.5,3.0,3.2,2.0,3.0,2.8,2.0,2.5,2.3,2.0,2.4,2.0,1.8,1.0,1.2,0.9,0.7,0.5,0.4];
const et_CNQia_inHi=[1.5,1.0,1.3,0.9,1.2,1.0,2.5,2.8,3.0,2.2,3.5,2.8,4.0,4.5,3.5,4.8,2.8,5.0,4.5,5.5,4.8,5.8,5.0,5.5,4.8,5.2,5.0,5.5,4.8,5.0,3.5,4.8,4.5,3.2,4.2,3.8,3.2,4.0,3.5,3.0,1.8,2.0,1.5,1.2,1.0,0.8];
const et_CNQia_inLo=[0.1,0.2,0.1,0.2,0.1,0.2,0.5,0.6,0.8,0.5,0.9,0.8,1.2,1.3,1.0,1.4,0.7,1.5,1.4,1.6,1.4,1.7,1.6,1.8,1.5,1.7,1.6,1.8,1.5,1.6,0.9,1.5,1.4,0.9,1.2,1.1,0.9,1.1,1.0,0.9,0.4,0.5,0.4,0.3,0.2,0.1];
const et_CNQia_outHi=[2.0,1.5,1.8,1.4,1.7,1.5,3.0,3.5,3.8,3.0,4.2,3.5,4.8,5.2,4.3,5.5,3.5,5.8,5.3,6.0,5.5,6.2,5.8,6.0,5.5,5.8,5.6,6.0,5.5,5.6,4.3,5.4,5.2,4.0,4.8,4.5,4.0,4.6,4.2,3.8,2.5,2.8,2.2,1.8,1.5,1.2];
const et_CNQia_outLo=[-0.6,-0.8,-0.7,-0.8,-0.6,-0.7,-0.5,-0.3,-0.2,-0.4,0.0,-0.2,0.2,0.3,0.0,0.4,-0.2,0.5,0.4,0.5,0.4,0.6,0.5,0.6,0.5,0.6,0.5,0.6,0.4,0.5,0.0,0.4,0.3,0.0,0.2,0.1,-0.1,0.1,0.0,-0.2,-0.5,-0.4,-0.6,-0.7,-0.8,-0.8];

// ===== ET US-Me2 =====
const et_USMe2_obs=[0.5,1.0,0.8,1.2,0.6,1.0,0.8,1.3,1.5,1.2,1.8,1.5,2.0,1.7,2.2,2.5,2.0,3.0,2.8,3.5,2.5,3.0,2.8,2.5,3.0,2.7,2.2,2.0,1.5,1.2,1.0,0.8,1.0,0.6,1.2,0.8,1.3,0.7,1.5,1.0,0.8,1.3,1.0,0.8,1.2,1.0];
const et_USMe2_obs2=[0.7,0.4,1.1,0.9,0.5,1.3,1.0,1.8,1.0,1.5,1.3,2.0,1.5,2.4,1.8,2.8,2.3,3.4,2.6,3.0,2.8,3.6,2.6,2.9,2.4,2.3,1.8,1.5,1.3,0.9,0.7,1.2,0.5,1.0,0.6,1.4,0.9,1.2,0.7,1.1,1.4,0.9,1.2,1.5,0.8];
const et_USMe2_mod=[0.3,0.5,0.7,0.5,0.6,0.4,0.8,1.3,0.6,1.0,1.2,1.0,1.3,1.5,1.2,1.8,2.0,2.2,1.8,2.5,2.2,2.8,2.5,3.0,2.6,2.4,2.2,1.8,1.5,1.2,0.8,0.6,0.5,0.4,0.5,0.3,0.3,0.2,0.3,0.2,0.2,0.15,0.2,0.1,0.15,0.1];
const et_USMe2_med=[0.4,0.5,0.6,0.5,0.6,0.5,0.7,1.1,0.6,0.9,1.0,0.9,1.1,1.3,1.1,1.5,1.7,1.9,1.7,2.2,2.0,2.5,2.3,2.7,2.4,2.3,2.0,1.7,1.4,1.1,0.8,0.6,0.5,0.4,0.5,0.3,0.3,0.25,0.3,0.2,0.2,0.2,0.2,0.15,0.15,0.1];
const et_USMe2_inHi=[0.6,0.7,0.9,0.7,0.8,0.6,1.0,1.5,0.8,1.2,1.4,1.2,1.5,1.8,1.5,2.1,2.3,2.6,2.2,2.9,2.6,3.1,2.8,3.2,2.9,2.7,2.5,2.1,1.8,1.4,1.0,0.8,0.7,0.6,0.7,0.5,0.5,0.4,0.45,0.35,0.35,0.3,0.35,0.25,0.3,0.2];
const et_USMe2_inLo=[0.1,0.2,0.3,0.2,0.3,0.2,0.4,0.7,0.3,0.5,0.6,0.5,0.7,0.8,0.6,0.9,1.0,1.1,1.0,1.3,1.2,1.5,1.4,1.6,1.5,1.4,1.2,1.0,0.8,0.6,0.4,0.3,0.2,0.15,0.2,0.1,0.1,0.05,0.1,0.05,0.05,0.0,0.05,0.0,0.0,0.0];
const et_USMe2_outHi=[1.5,1.8,2.0,1.6,1.8,1.5,2.0,2.5,1.8,2.2,2.5,2.3,2.8,3.2,2.8,3.5,3.8,4.2,3.8,4.5,4.2,5.0,4.6,5.2,4.8,4.5,4.2,3.8,3.3,2.8,2.3,2.0,1.8,1.6,1.8,1.5,1.4,1.3,1.4,1.2,1.2,1.1,1.2,1.0,1.1,1.0];
const et_USMe2_outLo=[-0.9,-0.8,-0.7,-0.8,-0.7,-0.8,-0.6,-0.5,-0.7,-0.6,-0.6,-0.6,-0.5,-0.5,-0.5,-0.4,-0.4,-0.3,-0.4,-0.3,-0.3,-0.2,-0.3,-0.2,-0.3,-0.3,-0.4,-0.5,-0.6,-0.6,-0.7,-0.8,-0.8,-0.9,-0.8,-0.9,-0.9,-1.0,-0.9,-1.0,-1.0,-1.0,-1.0,-1.0,-1.0,-1.0];

// ===== ET CA-Qfo =====
const et_CAQfo_obs=[0.2,0.1,0.2,0.1,0.1,0.2,0.1,0.2,0.3,0.2,0.3,0.3,0.5,0.8,1.0,1.2,1.5,2.0,1.8,2.2,3.2,2.5,2.2,2.5,2.8,2.0,2.2,1.8,2.0,1.5,1.8,1.5,1.5,1.0,0.8,0.6,0.4,0.3,0.2,0.2,0.1,0.2,0.1,0.2,0.1,0.2];
const et_CAQfo_obs2=[0.1,0.2,0.0,0.2,0.1,0.3,0.2,0.1,0.3,0.2,0.4,0.4,0.7,1.0,1.4,1.0,1.8,2.3,2.0,2.8,2.2,2.7,2.0,2.4,2.5,1.9,2.3,1.6,2.1,1.7,1.4,1.7,1.2,0.9,0.5,0.4,0.3,0.2,0.1,0.2,0.0,0.1,0.2,0.1,0.1];
const et_CAQfo_mod=[0.05,0.1,0.05,0.1,0.05,0.1,0.05,0.1,0.1,0.15,0.15,0.2,0.3,0.5,0.7,1.0,1.2,1.5,1.3,1.8,2.0,1.7,2.0,1.8,2.2,1.8,2.0,1.7,1.8,1.5,1.6,1.3,1.2,0.9,0.6,0.4,0.3,0.2,0.15,0.1,0.1,0.1,0.05,0.1,0.05,0.1];
const et_CAQfo_med=[0.1,0.1,0.1,0.1,0.1,0.1,0.1,0.15,0.15,0.2,0.2,0.25,0.4,0.8,1.0,1.3,1.6,2.0,1.7,2.3,2.5,2.1,2.5,2.3,2.6,2.2,2.4,2.0,2.2,1.8,1.9,1.5,1.4,1.0,0.7,0.5,0.35,0.25,0.2,0.15,0.1,0.1,0.1,0.1,0.1,0.1];
const et_CAQfo_inHi=[0.2,0.2,0.2,0.2,0.2,0.2,0.2,0.25,0.25,0.3,0.3,0.4,0.7,1.3,1.6,2.0,2.4,3.0,2.5,3.3,3.5,3.0,3.4,3.2,3.5,3.0,3.2,2.7,3.0,2.4,2.6,2.0,1.9,1.4,1.0,0.7,0.5,0.35,0.3,0.25,0.2,0.2,0.2,0.2,0.2,0.2];
const et_CAQfo_inLo=[0.0,0.0,0.0,0.0,0.0,0.0,0.0,0.05,0.05,0.1,0.1,0.1,0.2,0.4,0.5,0.7,0.9,1.1,1.0,1.3,1.4,1.2,1.4,1.3,1.5,1.3,1.4,1.2,1.3,1.1,1.1,0.9,0.8,0.6,0.4,0.25,0.15,0.1,0.05,0.0,0.0,0.0,0.0,0.0,0.0,0.0];
const et_CAQfo_outHi=[0.6,0.6,0.55,0.6,0.6,0.55,0.6,0.65,0.7,0.7,0.75,0.8,1.2,2.0,2.5,3.0,3.5,4.2,3.5,4.5,4.7,4.0,4.5,4.2,4.5,4.0,4.2,3.6,3.8,3.2,3.4,2.8,2.6,2.0,1.5,1.1,0.8,0.7,0.65,0.6,0.6,0.6,0.55,0.6,0.55,0.6];
const et_CAQfo_outLo=[-0.5,-0.5,-0.55,-0.5,-0.5,-0.55,-0.5,-0.5,-0.45,-0.5,-0.45,-0.45,-0.4,-0.3,-0.2,-0.1,0.0,0.2,0.1,0.3,0.3,0.2,0.3,0.3,0.4,0.3,0.3,0.2,0.3,0.1,0.1,0.0,-0.1,-0.2,-0.3,-0.4,-0.45,-0.5,-0.5,-0.5,-0.55,-0.5,-0.5,-0.55,-0.5,-0.5];

// ---------- BUILD PANEL TABLES ----------
function mk(obs,obs2,mod,med,inLo,inHi,outLo,outHi){return {obs,obs2,mod,med,inLo,inHi,outLo,outHi};}
const gppSeries = [
  mk(gpp_ITCol_obs,gpp_ITCol_obs2,gpp_ITCol_mod,gpp_ITCol_med,gpp_ITCol_inLo,gpp_ITCol_inHi,gpp_ITCol_outLo,gpp_ITCol_outHi),
  mk(gpp_USHa1_obs,gpp_USHa1_obs2,gpp_USHa1_mod,gpp_USHa1_med,gpp_USHa1_inLo,gpp_USHa1_inHi,gpp_USHa1_outLo,gpp_USHa1_outHi),
  mk(gpp_BRSa3_obs,gpp_BRSa3_obs2,gpp_BRSa3_mod,gpp_BRSa3_med,gpp_BRSa3_inLo,gpp_BRSa3_inHi,gpp_BRSa3_outLo,gpp_BRSa3_outHi),
  mk(gpp_AUTum_obs,gpp_AUTum_obs2,gpp_AUTum_mod,gpp_AUTum_med,gpp_AUTum_inLo,gpp_AUTum_inHi,gpp_AUTum_outLo,gpp_AUTum_outHi),
  mk(gpp_FRPue_obs,gpp_FRPue_obs2,gpp_FRPue_mod,gpp_FRPue_med,gpp_FRPue_inLo,gpp_FRPue_inHi,gpp_FRPue_outLo,gpp_FRPue_outHi),
  mk(gpp_CNQia_obs,gpp_CNQia_obs2,gpp_CNQia_mod,gpp_CNQia_med,gpp_CNQia_inLo,gpp_CNQia_inHi,gpp_CNQia_outLo,gpp_CNQia_outHi),
  mk(gpp_USMe2_obs,gpp_USMe2_obs2,gpp_USMe2_mod,gpp_USMe2_med,gpp_USMe2_inLo,gpp_USMe2_inHi,gpp_USMe2_outLo,gpp_USMe2_outHi),
  mk(gpp_CAQfo_obs,gpp_CAQfo_obs2,gpp_CAQfo_mod,gpp_CAQfo_med,gpp_CAQfo_inLo,gpp_CAQfo_inHi,gpp_CAQfo_outLo,gpp_CAQfo_outHi)
];
const etSeries = [
  mk(et_ITCol_obs,et_ITCol_obs2,et_ITCol_mod,et_ITCol_med,et_ITCol_inLo,et_ITCol_inHi,et_ITCol_outLo,et_ITCol_outHi),
  mk(et_USHa1_obs,et_USHa1_obs2,et_USHa1_mod,et_USHa1_med,et_USHa1_inLo,et_USHa1_inHi,et_USHa1_outLo,et_USHa1_outHi),
  mk(et_BRSa3_obs,et_BRSa3_obs2,et_BRSa3_mod,et_BRSa3_med,et_BRSa3_inLo,et_BRSa3_inHi,et_BRSa3_outLo,et_BRSa3_outHi),
  mk(et_AUTum_obs,et_AUTum_obs2,et_AUTum_mod,et_AUTum_med,et_AUTum_inLo,et_AUTum_inHi,et_AUTum_outLo,et_AUTum_outHi),
  mk(et_FRPue_obs,et_FRPue_obs2,et_FRPue_mod,et_FRPue_med,et_FRPue_inLo,et_FRPue_inHi,et_FRPue_outLo,et_FRPue_outHi),
  mk(et_CNQia_obs,et_CNQia_obs2,et_CNQia_mod,et_CNQia_med,et_CNQia_inLo,et_CNQia_inHi,et_CNQia_outLo,et_CNQia_outHi),
  mk(et_USMe2_obs,et_USMe2_obs2,et_USMe2_mod,et_USMe2_med,et_USMe2_inLo,et_USMe2_inHi,et_USMe2_outLo,et_USMe2_outHi),
  mk(et_CAQfo_obs,et_CAQfo_obs2,et_CAQfo_mod,et_CAQfo_med,et_CAQfo_inLo,et_CAQfo_inHi,et_CAQfo_outLo,et_CAQfo_outHi)
];

// ---------- LAYOUT / STYLE ----------
const XDOM = [-17.2, 383.2];
const STRIP_H = 21;
const layoutA = {cols:[[49.3,311.7],[346.7,608.3],[634.3,896]], stripTop:[11,198.3,385.7], plotBottom:[190,377.3,565]};
const layoutB = {cols:[[49.3,316.7],[337.7,606.7],[627.7,896.7]], stripTop:[611,798,985], plotBottom:[789,977,1163]};
const COL = {outer:"#f6b5ac", inner:"#d55e00", med:"#8b0000", mod:"#a020f0", obsStroke:"#2f5a4c", obsFill:"rgba(190,220,210,0.35)"};

const svg = d3.select("#chart");
const defs = svg.append("defs");

function drawPart(key, series, ticks, limits, layout, decimalsIdx) {
  series.forEach((p, k) => {
    const r = Math.floor(k/3), c = k%3;
    const [x0,x1] = layout.cols[c];
    const st = layout.stripTop[r], pt = st + STRIP_H, pb = layout.plotBottom[r];
    const x = d3.scaleLinear().domain(XDOM).range([x0,x1]);
    const y = d3.scaleLinear().domain(limits[k]).range([pb,pt]);
    const id = "clip" + key + k;
    defs.append("clipPath").attr("id", id).append("rect")
      .attr("x", x0).attr("y", pt).attr("width", x1-x0).attr("height", pb-pt);
    const g = svg.append("g");
    g.append("rect").attr("x", x0).attr("y", st).attr("width", x1-x0).attr("height", STRIP_H)
      .attr("fill", "#f0f0f0").attr("stroke", "#8c8c8c").attr("stroke-width", 0.8);
    g.append("text").attr("x", (x0+x1)/2).attr("y", st + STRIP_H/2 + 3.6)
      .attr("text-anchor","middle").attr("font-size", 10).attr("fill","#1a1a1a").text(titles[k]);
    const body = g.append("g").attr("clip-path", `url(#${id})`);
    const band = (lo,hi) => d3.area().defined((d,i)=>lo[i]!=null && hi[i]!=null)
      .x(d=>x(d)).y0((d,i)=>y(lo[i])).y1((d,i)=>y(hi[i]));
    const line = v => d3.line().defined((d,i)=>v[i]!=null).x(d=>x(d)).y((d,i)=>y(v[i]));
    body.append("path").datum(days).attr("d", band(p.outLo,p.outHi)).attr("fill", COL.outer);
    body.append("path").datum(days).attr("d", band(p.inLo,p.inHi)).attr("fill", COL.inner);
    body.append("path").datum(days).attr("d", line(p.med)).attr("fill","none")
      .attr("stroke", COL.med).attr("stroke-width", 1).attr("stroke-linejoin","round");
    body.append("path").datum(days).attr("d", line(p.mod)).attr("fill","none")
      .attr("stroke", COL.mod).attr("stroke-width", 1.5).attr("stroke-linejoin","round");
    const pts = days.map((d,i)=>[d,p.obs[i]]).concat(days2.map((d,i)=>[d,p.obs2[i]]))
      .filter(q=>q[1]!=null);
    body.selectAll("circle").data(pts).join("circle")
      .attr("cx", q=>x(q[0])).attr("cy", q=>y(q[1])).attr("r", 2.0)
      .attr("fill", COL.obsFill).attr("stroke", COL.obsStroke).attr("stroke-width", 0.75);
    g.append("rect").attr("x", x0).attr("y", pt).attr("width", x1-x0).attr("height", pb-pt)
      .attr("fill","none").attr("stroke","#555").attr("stroke-width",1);
    const fmt = (k === decimalsIdx) ? d3.format(".1f") : d3.format("d");
    const ya = g.append("g").attr("transform", `translate(${x0},0)`)
      .call(d3.axisLeft(y).tickValues(ticks[k]).tickSize(4).tickPadding(4).tickFormat(fmt));
    ya.select(".domain").remove();
    ya.selectAll("line").attr("stroke","#333").attr("stroke-width",0.8);
    ya.selectAll("text").attr("font-size", 9.5).attr("fill","#333").attr("font-family","Liberation Sans, Arial, sans-serif");
    if (k >= 5) {
      const xa = g.append("g").attr("transform", `translate(0,${pb})`)
        .call(d3.axisBottom(x).tickValues(xTickValues).tickSize(4).tickPadding(3).tickFormat(d3.format("d")));
      xa.select(".domain").remove();
      xa.selectAll("line").attr("stroke","#333").attr("stroke-width",0.8);
      xa.selectAll("text").attr("font-size", 9.5).attr("fill","#333").attr("font-family","Liberation Sans, Arial, sans-serif");
    }
  });
}

drawPart("a", gppSeries, gppTicks, gppLimits, layoutA, 4);
drawPart("b", etSeries, etTicks, etLimits, layoutB, -1);

svg.append("text").attr("x", 13).attr("y", 31).attr("font-size", 21).attr("font-weight","bold")
  .attr("textLength", 30).attr("lengthAdjust","spacingAndGlyphs").attr("fill","#000").text("(a)");
svg.append("text").attr("x", 13).attr("y", 619).attr("font-size", 21).attr("font-weight","bold")
  .attr("textLength", 30).attr("lengthAdjust","spacingAndGlyphs").attr("fill","#000").text("(b)");

svg.append("text").attr("x", 472.6).attr("y", 593).attr("text-anchor","middle").attr("font-size", 10).attr("fill","#1a1a1a").text("DoY");
svg.append("text").attr("x", 473).attr("y", 1190).attr("text-anchor","middle").attr("font-size", 10).attr("fill","#1a1a1a").text("DoY");

const gppT = svg.append("text").attr("transform","translate(23,289) rotate(-90)")
  .attr("text-anchor","middle").attr("font-size",10).attr("fill","#1a1a1a");
gppT.append("tspan").text("GPP (g C m");
gppT.append("tspan").attr("dy",-4).attr("font-size",7).text("−2");
gppT.append("tspan").attr("dy",4).text(" day");
gppT.append("tspan").attr("dy",-4).attr("font-size",7).text("−1");
gppT.append("tspan").attr("dy",4).text(")");

svg.append("text").attr("transform","translate(25,886) rotate(-90)")
  .attr("text-anchor","middle").attr("font-size",10.5).attr("fill","#1a1a1a").text("ET (mm/day)");
</script>
</body></html>
